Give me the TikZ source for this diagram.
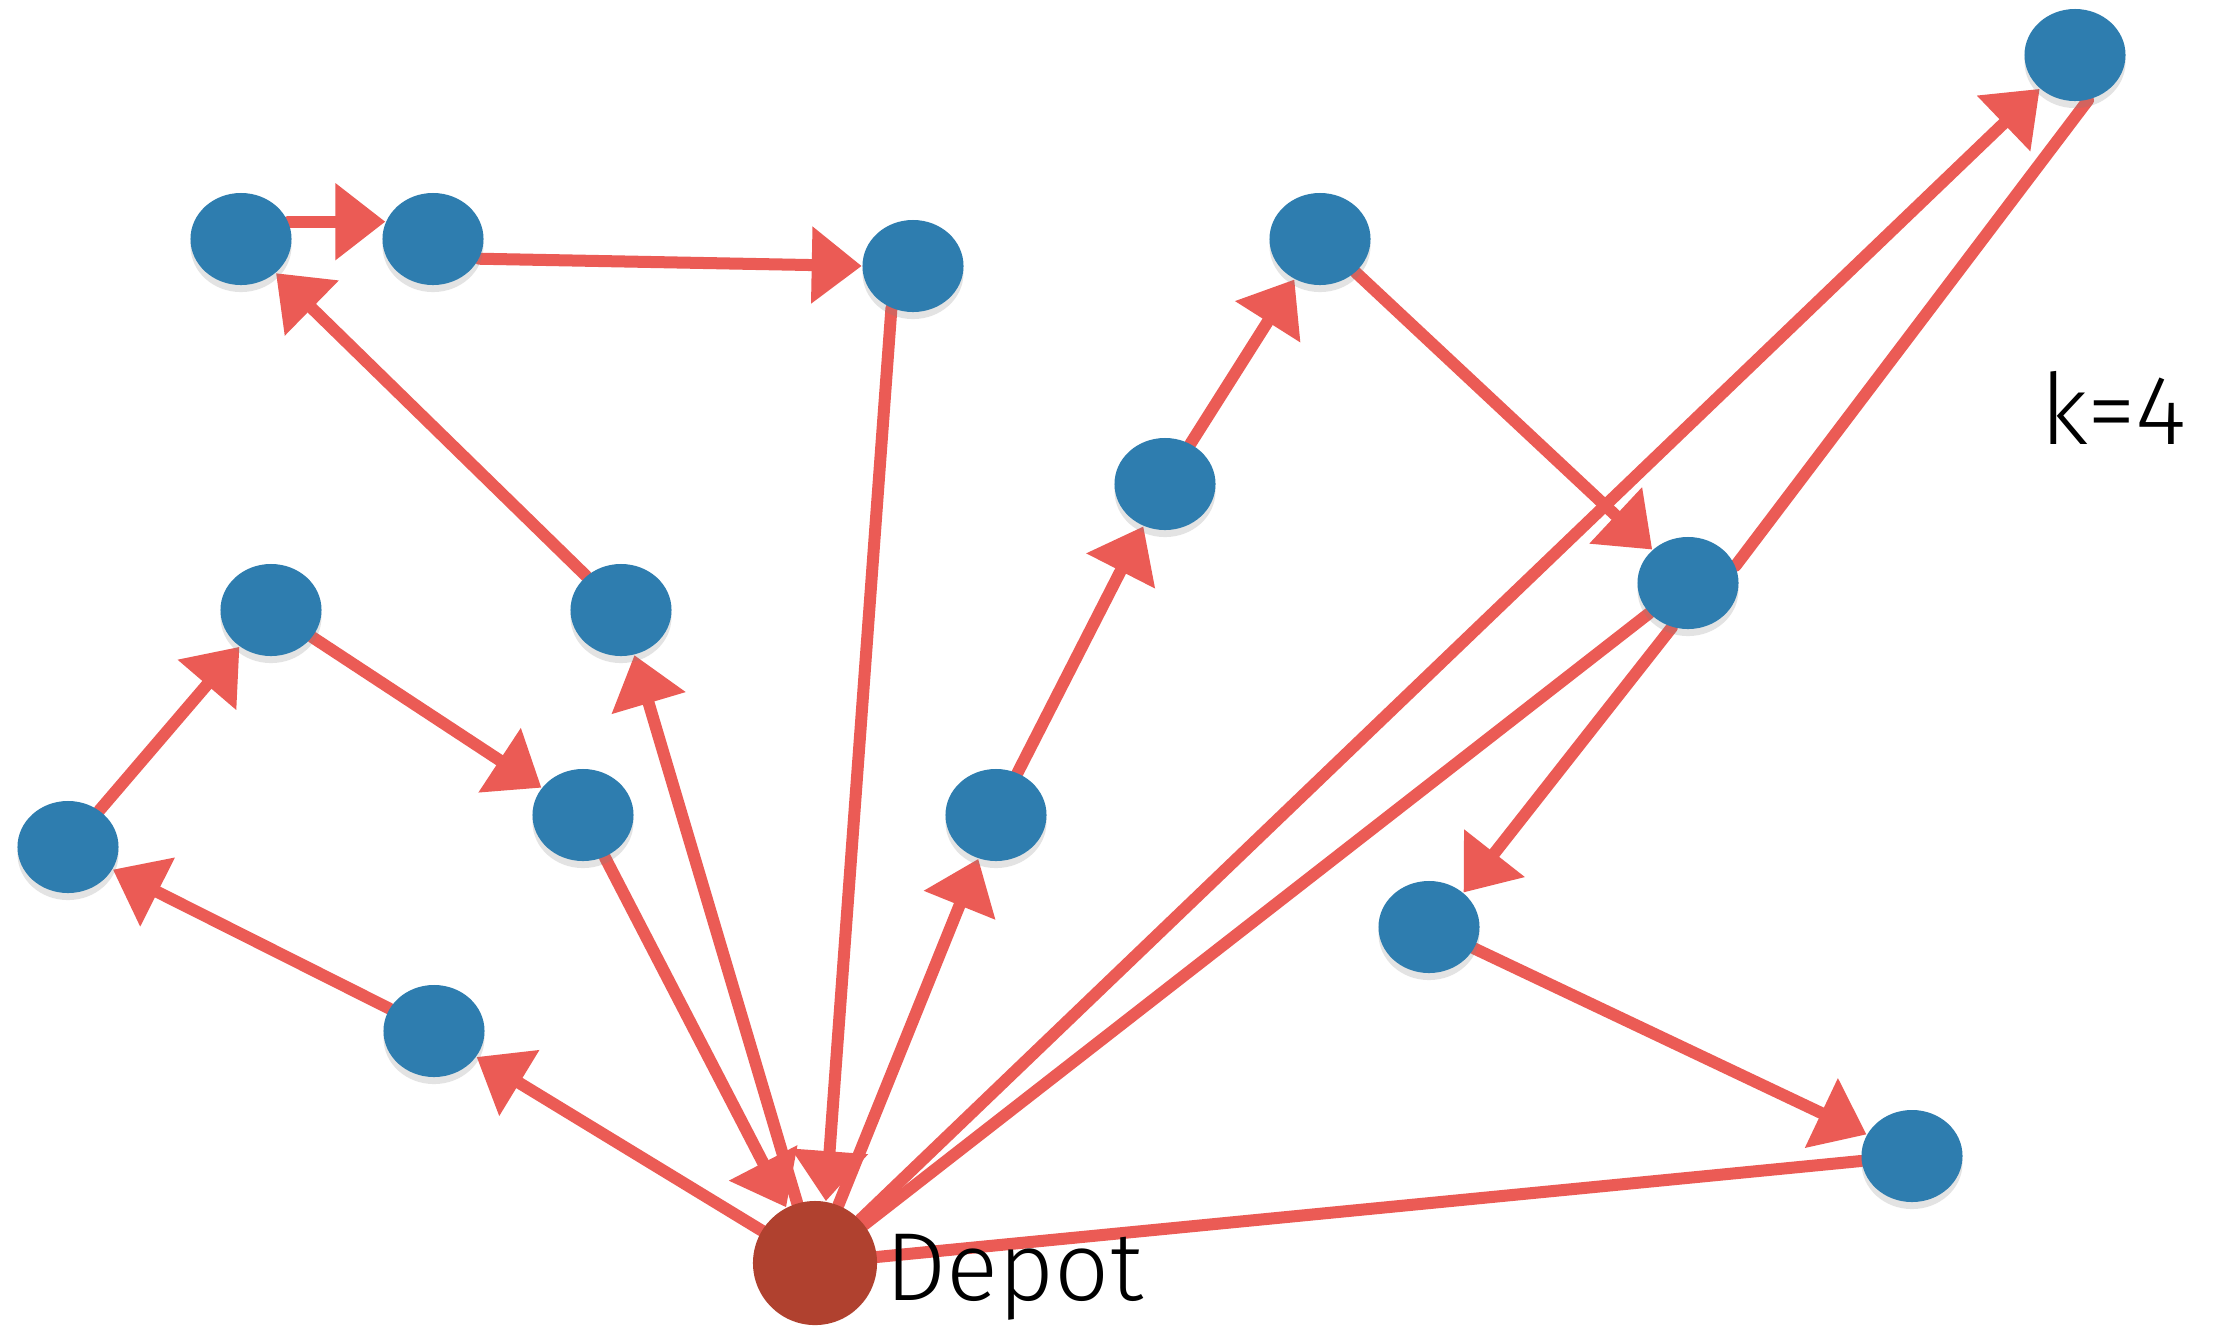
\documentclass[tikz,border=0pt]{standalone}
\usepackage{fontspec}
\setmainfont{Fira Sans}[UprightFont={* Light}]
\usetikzlibrary{arrows.meta,shapes.geometric,shadows}
\definecolor{nodeblue}{HTML}{2E7DAF}
\definecolor{depotred}{HTML}{B0412F}
\definecolor{routered}{HTML}{EB5B55}
\pgfdeclarelayer{paper}
\pgfdeclarelayer{bg}
\pgfsetlayers{paper,bg,main}
\begin{document}
\begin{tikzpicture}[x=0.01cm,y=-0.01cm,
  cust/.style={ellipse, fill=nodeblue, minimum width=1.01cm, minimum height=0.92cm, inner sep=0pt,
    drop shadow={shadow xshift=0pt, shadow yshift=-2pt, opacity=0.22}},
  depotnode/.style={circle, fill=depotred, minimum size=1.24cm, inner sep=0pt},
  route/.style={draw=routered, line width=0.12cm, line cap=round},
  arr/.style={route, -{Triangle[length=0.5cm,width=0.74cm]}},
  lbl/.style={font=\fontsize{27.5}{32}\selectfont, inner sep=0pt}]
\begin{pgfonlayer}{paper}
\fill[white] (0,0) rectangle (2233,1326);
\end{pgfonlayer}
\useasboundingbox (0,0) rectangle (2233,1326);
% customers
\node[cust] (A) at (241,239) {};
\node[cust] (B) at (433,239) {};
\node[cust] (C) at (913,266) {};
\node[cust] (D) at (1320,239) {};
\node[cust] (E) at (2075,55) {};
\node[cust] (F) at (1165,484) {};
\node[cust] (G) at (1688,583) {};
\node[cust] (H) at (271,610) {};
\node[cust] (I) at (621,610) {};
\node[cust] (J) at (68,847) {};
\node[cust] (K) at (583,815) {};
\node[cust] (L) at (996,815) {};
\node[cust] (M) at (1429,927) {};
\node[cust] (N) at (434,1031) {};
\node[cust] (O) at (1912,1156) {};
\node[depotnode] (depot) at (815,1263) {};
\node[lbl, anchor=base west] (deplbl) at (885,1300) {Depot};
\node[lbl, anchor=base west, font=\fontsize{28}{33}\selectfont] (klbl) at (2040,444) {k=4};
\begin{pgfonlayer}{bg}
% route 1
\draw[arr] (depot) -- (N);
\draw[arr] (N) -- (J);
\draw[arr] (J) -- (H);
\draw[arr] (H) -- (K);
\draw[arr] (K) -- (depot);
% route 2
\draw[arr] (depot) -- (I);
\draw[arr] (I) -- (A);
\draw[arr] (A.20) -- (B.160);
\draw[arr] (B.-23) -- (C.180);
\draw[arr] (C.-117) -- (depot.80);
% route 3
\draw[arr] (depot) -- (L);
\draw[arr] (L) -- (F);
\draw[arr] (F) -- (D);
\draw[arr] (D) -- (G);
\draw[route] (G) -- (depot);
% route 4
\draw[arr] (depot) -- (E);
\draw[route] (E.-74) -- (G.20);
\draw[arr] (G.-110) -- (M.45);
\draw[arr] (M) -- (O);
\draw[route] (O) -- (depot);
\end{pgfonlayer}
\end{tikzpicture}
\end{document}
